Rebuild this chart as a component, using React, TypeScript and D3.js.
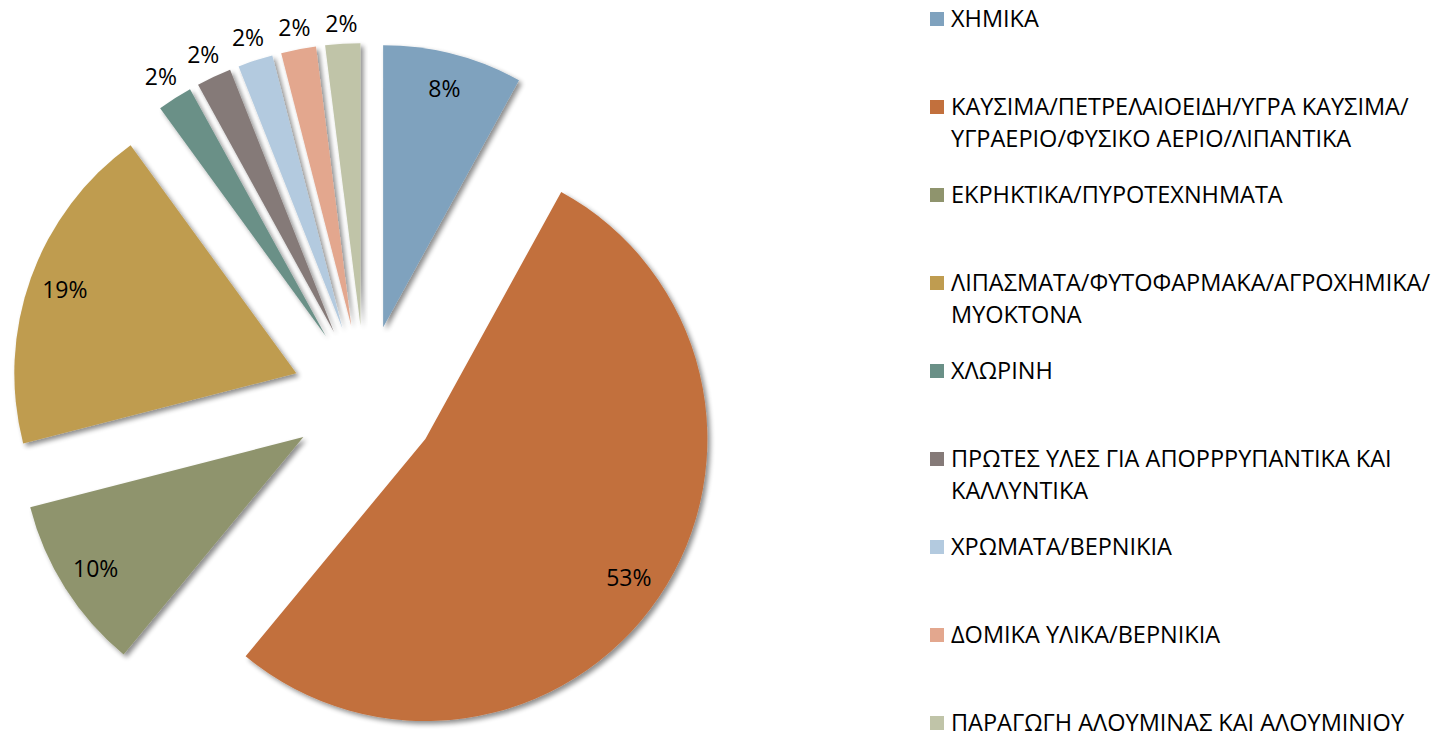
import React from "react";
import * as d3 from "d3";

const categories: string[][] = [
  ["ΧΗΜΙΚΑ"],
  ["ΚΑΥΣΙΜΑ/ΠΕΤΡΕΛΑΙΟΕΙΔΗ/ΥΓΡΑ ΚΑΥΣΙΜΑ/", "ΥΓΡΑΕΡΙΟ/ΦΥΣΙΚΟ ΑΕΡΙΟ/ΛΙΠΑΝΤΙΚΑ"],
  ["ΕΚΡΗΚΤΙΚΑ/ΠΥΡΟΤΕΧΝΗΜΑΤΑ"],
  ["ΛΙΠΑΣΜΑΤΑ/ΦΥΤΟΦΑΡΜΑΚΑ/ΑΓΡΟΧΗΜΙΚΑ/", "ΜΥΟΚΤΟΝΑ"],
  ["ΧΛΩΡΙΝΗ"],
  ["ΠΡΩΤΕΣ ΥΛΕΣ ΓΙΑ ΑΠΟΡΡΡΥΠΑΝΤΙΚΑ ΚΑΙ", "ΚΑΛΛΥΝΤΙΚΑ"],
  ["ΧΡΩΜΑΤΑ/ΒΕΡΝΙΚΙΑ"],
  ["ΔΟΜΙΚΑ ΥΛΙΚΑ/ΒΕΡΝΙΚΙΑ"],
  ["ΠΑΡΑΓΩΓΗ ΑΛΟΥΜΙΝΑΣ ΚΑΙ ΑΛΟΥΜΙΝΙΟΥ"],
];
const values: number[] = [8, 53, 10, 19, 2, 2, 2, 2, 2];
const colors: string[] = [
  "#7FA2BE",
  "#C2703D",
  "#8F946D",
  "#BF9C50",
  "#6A9087",
  "#857A78",
  "#B3CADF",
  "#E3A78E",
  "#C0C4A8",
];

const W = 1447;
const H = 735;
const CX = 365;
const CY = 398;
const R = 282;
const EXPLODE = 73;
const LABEL_IN = 246;
const LABEL_GAP = 8;
const FONT = "'Open Sans', 'DejaVu Sans', sans-serif";

export default function App() {
  const total = d3.sum(values);
  const pie = d3
    .pie<number>()
    .sort(null)
    .value((d) => d)
    .startAngle(0)
    .endAngle(2 * Math.PI);
  const arcs = pie(values);
  const arc = d3.arc<d3.PieArcDatum<number>>().innerRadius(0).outerRadius(R);

  const legendX = 930;
  const legendY0 = 19;
  const legendStep = 88;
  const legendFs = 23.5;
  const labelFs = 23;

  return (
    <svg
      width={W}
      height={H}
      style={{ position: "absolute", left: 0, top: 0, background: "#fff" }}
    >
      <defs>
        <filter id="shadow" x="-20%" y="-20%" width="140%" height="140%">
          <feGaussianBlur in="SourceAlpha" stdDeviation="2.5" />
          <feOffset dx="3" dy="3" result="ob" />
          <feComponentTransfer>
            <feFuncA type="linear" slope="0.45" />
          </feComponentTransfer>
          <feMerge>
            <feMergeNode />
            <feMergeNode in="SourceGraphic" />
          </feMerge>
        </filter>
      </defs>
      <g>
        {arcs.map((a, i) => {
          const mid = (a.startAngle + a.endAngle) / 2;
          const sx = Math.sin(mid);
          const sy = -Math.cos(mid);
          const ox = CX + sx * EXPLODE;
          const oy = CY + sy * EXPLODE;
          const pct = Math.round((values[i] / total) * 100) + "%";
          const small = values[i] / total < 0.05;
          const lr = small
            ? R + LABEL_GAP + Math.abs(sx) * 16 + Math.abs(sy) * 11
            : LABEL_IN;
          const lx = ox + sx * lr;
          const ly = oy + sy * lr;
          return (
            <g key={i}>
              <path
                d={arc(a) || ""}
                transform={`translate(${ox},${oy})`}
                fill={colors[i]}
                filter="url(#shadow)"
              />
              <text
                x={lx}
                y={ly + labelFs * 0.357}
                textAnchor="middle"
                fontFamily={FONT}
                fontSize={labelFs}
                fill="#000"
              >
                {pct}
              </text>
            </g>
          );
        })}
      </g>
      <g>
        {categories.map((lines, i) => {
          const cy = legendY0 + i * legendStep;
          return (
            <g key={i}>
              <rect
                x={legendX}
                y={cy - 7}
                width={14}
                height={14}
                fill={colors[i]}
              />
              {lines.map((t, j) => (
                <text
                  key={j}
                  x={legendX + 21}
                  y={cy + j * 32 + legendFs * 0.357}
                  fontFamily={FONT}
                  fontSize={legendFs}
                  fill="#000"
                >
                  {t}
                </text>
              ))}
            </g>
          );
        })}
      </g>
    </svg>
  );
}
